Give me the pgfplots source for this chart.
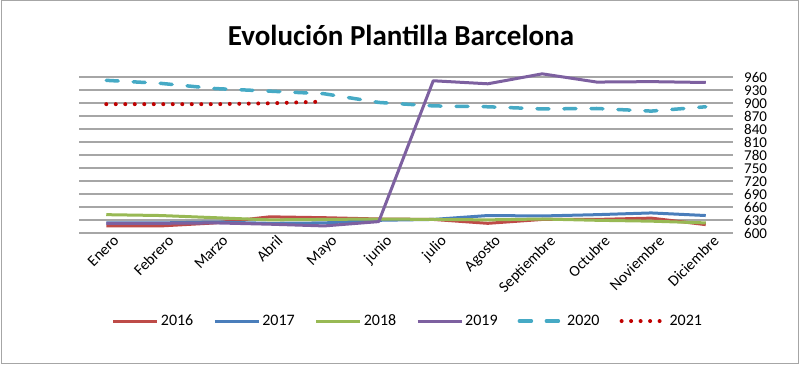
\documentclass[border=0pt]{standalone}
\usepackage{pgfplots}
\pgfplotsset{compat=1.18}
\usepackage{fontspec}
\setmainfont{Carlito}
\definecolor{c16}{HTML}{BE4B48}
\definecolor{c17}{HTML}{4A7EBB}
\definecolor{c18}{HTML}{98B954}
\definecolor{c19}{HTML}{7D60A0}
\definecolor{c20}{HTML}{46AAC5}
\definecolor{c21}{HTML}{C00000}
\definecolor{gridc}{HTML}{A6A6A6}
\begin{document}
\begin{tikzpicture}[x=1pt,y=1pt]
\useasboundingbox (0,0) rectangle (800,364);
\draw[gridc, line width=1pt] (1,1) rectangle (798.5,363);
\node[font=\fontsize{29}{31}\selectfont\bfseries] at (401,329) {Evolución Plantilla Barcelona};
\begin{axis}[
  at={(79pt,130.7pt)}, anchor=south west,
  scale only axis, width=654pt, height=162.5pt,
  xmin=-0.5, xmax=11.5, ymin=600, ymax=975,
  axis line style={draw=none}, tick style={draw=none},
  ytick={600,630,...,960},
  yticklabel pos=right,
  yticklabel style={anchor=west, xshift=11pt, inner sep=0pt, font=\fontsize{15}{15}\selectfont},
  ymajorgrids, grid style={gridc, line width=1.8pt},
  xtick={0,...,11},
  xticklabels={Enero,Febrero,Marzo,Abril,Mayo,junio,julio,Agosto,Septiembre,Octubre,Noviembre,Diciembre},
  xticklabel style={rotate=45, anchor=north east, inner sep=1pt, font=\fontsize{15.5}{15.5}\selectfont, yshift=-4pt, xshift=5pt},
  /pgf/number format/assume math mode=true,
  legend columns=6,
  legend style={at={(axis description cs:0.503,-0.54)}, anchor=center, draw=none, fill=none,
    font=\fontsize{16}{16}\selectfont,
    /tikz/every even column/.append style={column sep=18pt}},
  legend image code/.code={\draw[#1] (0pt,0pt) -- (44pt,0pt);},
  every axis plot/.append style={line width=3pt, line join=round},
]
\addplot[c16] coordinates {(0,617)(1,617)(2,624)(3,638)(4,636)(5,633)(6,632)(7,623)(8,632)(9,632)(10,635)(11,620)};
\addlegendentry{2016}
\addplot[c17] coordinates {(0,624)(1,624)(2,626)(3,623)(4,624)(5,630)(6,632)(7,641)(8,640)(9,643)(10,647)(11,641)};
\addlegendentry{2017}
\addplot[c18] coordinates {(0,643)(1,641)(2,636)(3,631)(4,632)(5,633)(6,632)(7,631)(8,633)(9,630)(10,628)(11,624)};
\addlegendentry{2018}
\addplot[c19] coordinates {(0,623)(1,623)(2,624)(3,621)(4,617)(5,627)(6,952)(7,945)(8,968)(9,949)(10,950)(11,948)};
\addlegendentry{2019}
\addplot[c20, line width=3.5pt, line cap=round, dash pattern=on 12pt off 15pt] coordinates {(0,953)(1,946)(2,934)(3,928)(4,922)(5,902)(6,894)(7,892)(8,887)(9,888)(10,882)(11,892)};
\addlegendentry{2020}
\addplot[c21, line width=4pt, line cap=round, dash pattern=on 0pt off 9.5pt] coordinates {(0,898)(1,898)(2,898)(3,900)(4,904)};
\addlegendentry{2021}
\end{axis}
\end{tikzpicture}
\end{document}
